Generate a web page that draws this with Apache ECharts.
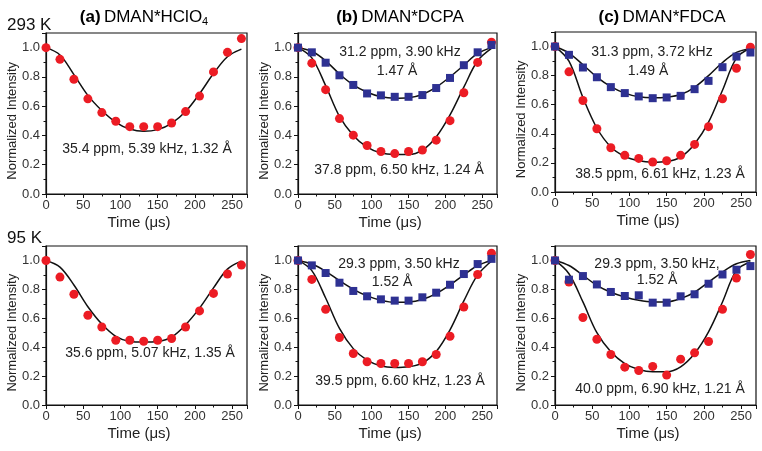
<!DOCTYPE html>
<html>
<head>
<meta charset="utf-8">
<script src="https://cdn.jsdelivr.net/npm/echarts@6/dist/echarts.min.js"></script>
<style>
html,body{margin:0;padding:0;background:#fff;}
#chart{width:762px;height:451px;}
</style>
</head>
<body>
<div id="chart"></div>
<script>
// ---------- DATA ----------
const times = [0, 18.75, 37.5, 56.25, 75, 93.75, 112.5, 131.25, 150, 168.75, 187.5, 206.25, 225, 243.75, 262.5];

const xTickValues = [0, 50, 100, 150, 200, 250];
const yTickValues = [0.0, 0.2, 0.4, 0.6, 0.8, 1.0];

const panelTitlesBold = ['(a)', '(b)', '(c)'];
const panelTitlesText = ['DMAN*HClO', 'DMAN*DCPA', 'DMAN*FDCA'];
const rowLabels = ['293 K', '95 K'];
const xAxisName = 'Time (\u03bcs)';
const yAxisName = 'Normalized Intensity';

// 293 K
const a293Red      = [1.00, 0.92, 0.784, 0.65, 0.556, 0.497, 0.46, 0.46, 0.46, 0.485, 0.563, 0.669, 0.834, 0.968, 1.062];
const a293RedFit   = [1.00, 0.95, 0.816, 0.674, 0.57, 0.49, 0.444, 0.428, 0.44, 0.483, 0.563, 0.685, 0.823, 0.938, 0.99];

const b293Blue     = [1.00, 0.968, 0.897, 0.811, 0.745, 0.687, 0.674, 0.664, 0.664, 0.676, 0.724, 0.793, 0.880, 0.968, 1.018];
const b293BlueFit  = [1.00, 0.975, 0.91, 0.82, 0.745, 0.695, 0.665, 0.655, 0.658, 0.68, 0.73, 0.80, 0.88, 0.96, 1.00];
const b293Red      = [1.00, 0.894, 0.713, 0.515, 0.402, 0.331, 0.290, 0.276, 0.290, 0.301, 0.368, 0.501, 0.692, 0.899, 1.037];
const b293RedFit   = [1.00, 0.93, 0.74, 0.53, 0.40, 0.32, 0.28, 0.27, 0.27, 0.30, 0.39, 0.54, 0.73, 0.91, 0.995];

const c293Blue     = [1.00, 0.943, 0.856, 0.789, 0.721, 0.680, 0.657, 0.645, 0.650, 0.661, 0.707, 0.764, 0.858, 0.931, 0.959];
const c293BlueFit  = [1.00, 0.955, 0.875, 0.79, 0.725, 0.68, 0.655, 0.648, 0.652, 0.67, 0.72, 0.80, 0.89, 0.96, 0.985];
const c293Red      = [1.00, 0.826, 0.629, 0.435, 0.304, 0.252, 0.231, 0.206, 0.215, 0.252, 0.327, 0.449, 0.641, 0.851, 0.995];
const c293RedFit   = [1.00, 0.90, 0.65, 0.44, 0.31, 0.245, 0.215, 0.205, 0.21, 0.24, 0.33, 0.48, 0.70, 0.92, 0.99];

// 95 K
const a95Red       = [1.00, 0.885, 0.766, 0.621, 0.540, 0.448, 0.448, 0.441, 0.448, 0.460, 0.540, 0.651, 0.772, 0.906, 0.968];
const a95RedFit    = [1.00, 0.954, 0.83, 0.68, 0.56, 0.475, 0.44, 0.435, 0.44, 0.47, 0.555, 0.67, 0.81, 0.94, 0.995];

const b95Blue      = [1.00, 0.966, 0.913, 0.846, 0.789, 0.752, 0.731, 0.722, 0.722, 0.745, 0.777, 0.832, 0.906, 0.975, 1.011];
const b95BlueFit   = [1.00, 0.975, 0.925, 0.86, 0.80, 0.755, 0.725, 0.71, 0.712, 0.73, 0.77, 0.83, 0.90, 0.965, 1.00];
const b95Red       = [1.00, 0.869, 0.662, 0.467, 0.356, 0.299, 0.287, 0.287, 0.287, 0.299, 0.349, 0.476, 0.678, 0.903, 1.05];
const b95RedFit    = [1.00, 0.93, 0.74, 0.53, 0.39, 0.31, 0.27, 0.26, 0.265, 0.29, 0.37, 0.52, 0.72, 0.90, 0.995];

const c95Blue      = [1.00, 0.867, 0.892, 0.834, 0.782, 0.754, 0.759, 0.708, 0.708, 0.752, 0.766, 0.839, 0.903, 0.936, 0.961];
const c95BlueFit   = [1.00, 0.965, 0.897, 0.828, 0.78, 0.747, 0.724, 0.713, 0.713, 0.736, 0.78, 0.85, 0.92, 0.977, 1.00];
const c95Red       = [1.00, 0.851, 0.605, 0.455, 0.349, 0.262, 0.239, 0.267, 0.207, 0.317, 0.361, 0.439, 0.662, 0.878, 1.041];
const c95RedFit    = [1.00, 0.908, 0.713, 0.50, 0.368, 0.287, 0.246, 0.23, 0.23, 0.264, 0.356, 0.506, 0.713, 0.931, 0.989];

const annotations = [
  ['35.4 ppm, 5.39 kHz, 1.32 \u00c5'],
  ['31.2 ppm, 3.90 kHz', '1.47 \u00c5', '37.8 ppm, 6.50 kHz, 1.24 \u00c5'],
  ['31.3 ppm, 3.72 kHz', '1.49 \u00c5', '38.5 ppm, 6.61 kHz, 1.23 \u00c5'],
  ['35.6 ppm, 5.07 kHz, 1.35 \u00c5'],
  ['29.3 ppm, 3.50 kHz', '1.52 \u00c5', '39.5 ppm, 6.60 kHz, 1.23 \u00c5'],
  ['29.3 ppm, 3.50 kHz,', '1.52 \u00c5', '40.0 ppm, 6.90 kHz, 1.21 \u00c5']
];

// ---------- LAYOUT ----------
const FONT = 'Liberation Sans, Arial, Helvetica, sans-serif';
const RED = '#ec1c24';
const BLUE = '#2e3192';

const grids = [
  {left: 46,  top: 33,  width: 201, height: 161},
  {left: 298, top: 33,  width: 199, height: 161},
  {left: 555, top: 32,  width: 201, height: 160},
  {left: 46,  top: 246, width: 201, height: 159},
  {left: 298, top: 246, width: 199, height: 159},
  {left: 555, top: 246, width: 201, height: 159}
];

const panels = [
  {red: a293Red, redFit: a293RedFit},
  {red: b293Red, redFit: b293RedFit, blue: b293Blue, blueFit: b293BlueFit},
  {red: c293Red, redFit: c293RedFit, blue: c293Blue, blueFit: c293BlueFit},
  {red: a95Red, redFit: a95RedFit},
  {red: b95Red, redFit: b95RedFit, blue: b95Blue, blueFit: b95BlueFit},
  {red: c95Red, redFit: c95RedFit, blue: c95Blue, blueFit: c95BlueFit}
];

// annotation centre positions (pixels)
const annPos = [
  [[147, 149]],
  [[400, 52], [397, 71], [399, 170]],
  [[652, 52], [648, 71], [660, 174]],
  [[150, 353]],
  [[399, 264], [392, 282], [400, 381]],
  [[657, 264], [657, 280], [660, 389]]
];

const pair = (ys) => times.map((t, i) => [t, ys[i]]);

const xAxes = [], yAxes = [], series = [], graphics = [];

grids.forEach((g, i) => {
  g.show = true;
  g.borderColor = '#111';
  g.borderWidth = 1.2;
  g.backgroundColor = 'transparent';
  xAxes.push({
    gridIndex: i, type: 'value', min: 0, max: 270, interval: 50,
    axisLine: {show: true, onZero: false, lineStyle: {color: '#111', width: 1.2}},
    axisTick: {show: true, inside: false, length: 4, lineStyle: {color: '#111', width: 1}},
    minorTick: {show: true, splitNumber: 2, length: 2.5, lineStyle: {color: '#111', width: 1}},
    splitLine: {show: false},
    axisLabel: {
      fontFamily: FONT, fontSize: 13, color: '#333', margin: 5, showMaxLabel: false,
      formatter: (v) => xTickValues.includes(v) ? String(v) : ''
    }
  });
  yAxes.push({
    gridIndex: i, type: 'value', min: 0, max: 1.1, interval: 0.2,
    axisLine: {show: true, onZero: false, lineStyle: {color: '#111', width: 1.2}},
    axisTick: {show: true, inside: false, length: 4, lineStyle: {color: '#111', width: 1}},
    minorTick: {show: true, splitNumber: 2, length: 2.5, lineStyle: {color: '#111', width: 1}},
    splitLine: {show: false},
    axisLabel: {
      fontFamily: FONT, fontSize: 13, color: '#333', margin: 6, showMaxLabel: false,
      formatter: (v) => yTickValues.some(t => Math.abs(t - v) < 1e-6) ? v.toFixed(1) : ''
    }
  });

  const p = panels[i];
  const fitLine = (ys) => ({
    type: 'line', xAxisIndex: i, yAxisIndex: i, data: pair(ys),
    smooth: 0.35, symbol: 'none', z: 3,
    lineStyle: {color: '#111', width: 1.5}
  });
  if (p.blueFit) series.push(fitLine(p.blueFit));
  series.push(fitLine(p.redFit));
  series.push({
    type: 'scatter', xAxisIndex: i, yAxisIndex: i, data: pair(p.red),
    symbol: 'circle', symbolSize: 9, z: 4,
    itemStyle: {color: RED, opacity: 1}
  });
  if (p.blue) series.push({
    type: 'scatter', xAxisIndex: i, yAxisIndex: i, data: pair(p.blue),
    symbol: 'rect', symbolSize: 8, z: 5,
    itemStyle: {color: BLUE, opacity: 1}
  });

  // annotations
  annotations[i].forEach((txt, k) => {
    graphics.push({
      type: 'text', x: annPos[i][k][0], y: annPos[i][k][1], z: 10,
      style: {text: txt, fontFamily: FONT, fontSize: 14, fill: '#222', align: 'center', verticalAlign: 'middle'}
    });
  });

  // axis names
  const xCenter = g.left + (125 / 270) * g.width;
  graphics.push({
    type: 'text', x: xCenter, y: g.top + g.height + 29, z: 10,
    style: {text: xAxisName, fontFamily: FONT, fontSize: 15, fill: '#222', align: 'center', verticalAlign: 'middle'}
  });
  const yCenter = g.top + g.height - (0.5 / 1.1) * g.height;
  graphics.push({
    type: 'text', x: g.left - 34, y: yCenter, rotation: Math.PI / 2, z: 10,
    style: {text: yAxisName, fontFamily: FONT, fontSize: 13, fill: '#222', align: 'center', verticalAlign: 'middle'}
  });
});

// panel titles
const titleCenters = [144, 400, 662];
titleCenters.forEach((cx, j) => {
  graphics.push({
    type: 'text', x: cx, y: 17, z: 10,
    style: {
      text: '{b|' + panelTitlesBold[j] + '} {n|' + panelTitlesText[j] + '}' + (j === 0 ? '{s|4}' : ''),
      align: 'center', verticalAlign: 'middle',
      rich: {
        b: {fontFamily: FONT, fontSize: 17, fontWeight: 'bold', fill: '#000', color: '#000'},
        n: {fontFamily: FONT, fontSize: 17, fill: '#000', color: '#000'},
        s: {fontFamily: FONT, fontSize: 11, fill: '#000', color: '#000', padding: [10, 0, 0, 0]}
      }
    }
  });
});

// row labels
graphics.push({type: 'text', x: 7, y: 25, z: 10,
  style: {text: rowLabels[0], fontFamily: FONT, fontSize: 17, fill: '#111', align: 'left', verticalAlign: 'middle'}});
graphics.push({type: 'text', x: 7, y: 238, z: 10,
  style: {text: rowLabels[1], fontFamily: FONT, fontSize: 17, fill: '#111', align: 'left', verticalAlign: 'middle'}});

const chart = echarts.init(document.getElementById('chart'), null, {renderer: 'canvas'});
chart.setOption({
  animation: false,
  backgroundColor: '#fff',
  grid: grids,
  xAxis: xAxes,
  yAxis: yAxes,
  series: series,
  graphic: graphics
});
</script>
</body>
</html>
